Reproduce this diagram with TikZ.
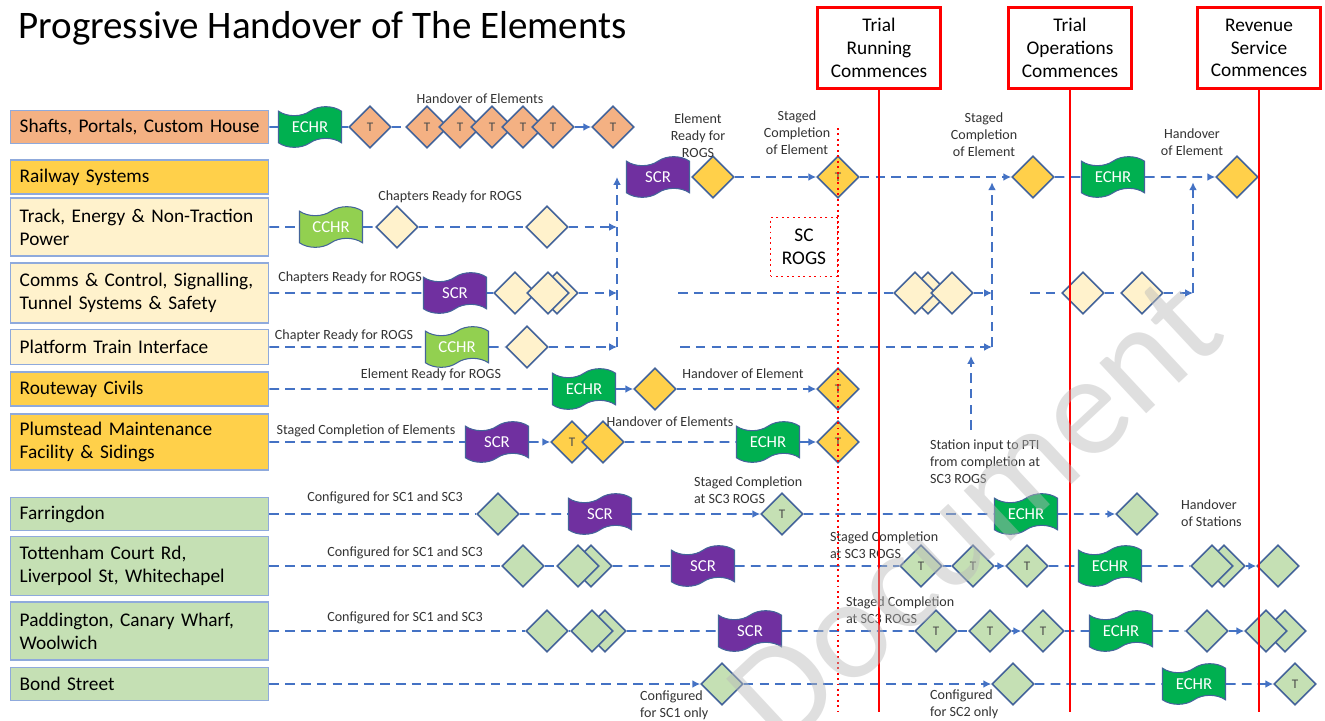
\documentclass[tikz,border=0pt]{standalone}
\usepackage{fontspec}
\setmainfont{Carlito}
\usetikzlibrary{arrows.meta,shapes.geometric,shapes.symbols}
\definecolor{orangeel}{HTML}{F4B183}
\definecolor{goldel}{HTML}{FFD04A}
\definecolor{creamel}{HTML}{FFF2CC}
\definecolor{greenel}{HTML}{C5E0B4}
\definecolor{boxline}{HTML}{8FAADC}
\definecolor{gateline}{HTML}{44649A}
\definecolor{flowblue}{HTML}{4472C4}
\definecolor{echrgreen}{HTML}{00B050}
\definecolor{cchrgreen}{HTML}{92D050}
\definecolor{scrpurple}{HTML}{7030A0}

\begin{document}
\begin{tikzpicture}[
  x=0.02cm, y=-0.02cm,
  >={Latex[length=4.5pt,width=4.5pt]},
  element/.style={draw=boxline, line width=0.8pt, anchor=west, minimum width=5.16cm,
    text width=4.8cm, align=left, inner xsep=0.18cm, font=\fontsize{11}{13}\selectfont},
  milestone/.style={draw=red, line width=1.2pt, minimum width=2.46cm, minimum height=1.62cm,
    align=center, font=\fontsize{11}{13}\selectfont},
  gate/.style={diamond, aspect=1, draw=gateline, line width=0.9pt, minimum size=0.84cm,
    inner sep=0pt, text=black!70, font=\fontsize{7.5}{8}\selectfont},
  flag/.style={tape, draw=gateline, line width=0.6pt, minimum width=1.26cm, minimum height=0.76cm,
    tape bend height=0.18cm, text=white, font=\fontsize{9.5}{10}\selectfont},
  echr/.style={flag, fill=echrgreen},
  cchr/.style={flag, fill=cchrgreen},
  scr/.style={flag, fill=scrpurple},
  flow/.style={draw=flowblue, line width=1.1pt, dash pattern=on 5.5pt off 3.5pt},
  note/.style={align=center, inner sep=1pt, text=black!80, font=\fontsize{8}{9.6}\selectfont},
  redline/.style={draw=red, line width=1.3pt}
]
\useasboundingbox (0,0) rectangle (1325,720);

% title and milestones
\node[anchor=west, inner sep=0pt, font=\fontsize{22.2}{25}\selectfont] (title) at (18,28) {Progressive Handover of The Elements};
\node[milestone] (run) at (879,48) {Trial\\Running\\Commences};
\node[milestone] (ops) at (1070,48) {Trial\\Operations\\Commences};
\node[milestone] (rev) at (1259,48) {Revenue\\Service\\Commences};
\coordinate (bot) at (0,712);

% elements
\node[element, fill=orangeel, minimum height=0.66cm] (shafts) at (10,127) {Shafts, Portals, Custom House};
\node[element, fill=goldel, minimum height=0.68cm] (rail) at (10,177) {Railway Systems};
\node[element, fill=creamel, minimum height=1.16cm] (track) at (10,227) {Track, Energy \& Non-Traction\\Power};
\node[element, fill=creamel, minimum height=1.2cm] (comms) at (10,293) {Comms \& Control, Signalling,\\Tunnel Systems \& Safety};
\node[element, fill=creamel, minimum height=0.7cm] (pti) at (10,347) {Platform Train Interface};
\node[element, fill=goldel, minimum height=0.68cm] (civils) at (10,389) {Routeway Civils};
\node[element, fill=goldel, minimum height=1.12cm] (plum) at (10,442) {Plumstead Maintenance\\Facility \& Sidings};
\node[element, fill=greenel, minimum height=0.66cm] (farr) at (10,514) {Farringdon};
\node[element, fill=greenel, minimum height=1.18cm] (tcr) at (10,566) {Tottenham Court Rd,\\Liverpool St, Whitechapel};
\node[element, fill=greenel, minimum height=1.16cm] (padd) at (10,631) {Paddington, Canary Wharf,\\Woolwich};
\node[element, fill=greenel, minimum height=0.66cm] (bond) at (10,684) {Bond Street};

% shafts
\node[echr] (sh-echr) at (310,127) {ECHR};
\node[gate, fill=orangeel] (sh-t0) at (370,127) {T};
\foreach \x [count=\i] in {427,460,492,523,553}
  \node[gate, fill=orangeel] (sh-t\i) at (\x,127) {T};
\node[gate, fill=orangeel] (sh-t6) at (613,127) {T};
\node[note] (sh-lbl) at (480,99) {Handover of Elements};
\draw[flow] (shafts) -- (sh-echr);
\draw[flow] (sh-echr) -- (sh-t0);
\draw[flow] (sh-t0) -- (sh-t1);
\draw[flow,->] (sh-t5) -- (sh-t6);

% railway systems
\node[scr] (rl-scr) at (658,177) {SCR};
\node[gate, fill=goldel] (rl-d1) at (713,177) {};
\node[gate, fill=goldel] (rl-t) at (838,177) {T};
\node[gate, fill=goldel] (rl-d2) at (1033,177) {};
\node[echr] (rl-echr) at (1113,177) {ECHR};
\node[gate, fill=goldel] (rl-d3) at (1237,177) {};
\node[note] (rl-lbl1) at (698,136) {Element\\Ready for\\ROGS};
\node[note] (rl-lbl2) at (797,133) {Staged\\Completion\\of Element};
\node[note] (rl-lbl3) at (984,135) {Staged\\Completion\\of Element};
\node[note] (rl-lbl4) at (1192,142) {Handover\\of Element};
\draw[flow,->] (rl-d1) -- (rl-t);
\draw[flow,->] (rl-t) -- (rl-d2);
\draw[flow] (rl-d2) -- (rl-echr);
\draw[flow,->] (rl-echr) -- (rl-d3);

% SC ROGS
\node[draw=red, dotted, line width=1.1pt, minimum width=1.34cm, minimum height=1.18cm, align=center,
  font=\fontsize{11}{13}\selectfont] (rogs) at (804,247) {SC\\ROGS};
\coordinate (rogs-top) at (838,128);

% track
\coordinate (j1) at (617,347);
\node[cchr] (tr-cchr) at (331,227) {CCHR};
\node[gate, fill=creamel] (tr-d1) at (397,227) {};
\node[gate, fill=creamel] (tr-d2) at (547,227) {};
\node[note] (tr-lbl) at (450,197) {Chapters Ready for ROGS};
\draw[flow] (track) -- (tr-cchr);
\draw[flow] (tr-cchr) -- (tr-d1);
\draw[flow] (tr-d1) -- (tr-d2);
\draw[flow,->] (tr-d2) -- (tr-d2 -| j1);

% comms
\node[scr] (co-scr) at (455,293) {SCR};
\node[gate, fill=creamel] (co-d1) at (515,293) {};
\node[gate, fill=creamel] (co-d3) at (557,293) {};
\node[gate, fill=creamel] (co-d2) at (548,293) {};
\node[note] (co-lbl) at (350,278) {Chapters Ready for ROGS};
\draw[flow] (comms) -- (co-scr);
\draw[flow] (co-scr) -- (co-d1);
\draw[flow,->] (co-d3) -- (co-d3 -| j1);
\coordinate (j2) at (992,347);
\coordinate (co-a) at (678,293);
\node[gate, fill=creamel] (co-d5) at (928,293) {};
\node[gate, fill=creamel] (co-d4) at (915,293) {};
\node[gate, fill=creamel] (co-d6) at (952,293) {};
\draw[flow] (co-a) -- (co-d4);
\draw[flow,->] (co-d6) -- (co-d6 -| j2);
\coordinate (co-b) at (1030,293);
\coordinate (j3) at (1193,293);
\node[gate, fill=creamel] (co-d7) at (1083,293) {};
\node[gate, fill=creamel] (co-d8) at (1142,293) {};
\draw[flow] (co-b) -- (co-d7);
\draw[flow] (co-d7) -- (co-d8);
\draw[flow,->] (co-d8) -- (j3);
\draw[flow,->,shorten >=3pt] (j3) -- (j3 |- rl-d3);

% platform train interface
\node[cchr] (pt-cchr) at (457,347) {CCHR};
\node[gate, fill=creamel] (pt-d1) at (527,347) {};
\node[note] (pt-lbl) at (344,336) {Chapter Ready for ROGS};
\draw[flow] (pti) -- (pt-cchr);
\draw[flow] (pt-cchr) -- (pt-d1);
\draw[flow,->] (pt-d1) -- (j1);
\draw[flow,->] (j1) -- (j1 |- rl-scr);
\coordinate (pt-a) at (680,347);
\draw[flow,->] (pt-a) -- (j2);
\draw[flow,->,shorten >=3pt] (j2) -- (j2 |- rl-d2);
\coordinate (si-a) at (971,430);
\coordinate (si-b) at (971,356);
\draw[flow,->] (si-a) -- (si-b);
\node[note, anchor=north west, align=left] (si-lbl) at (928,438) {Station input to PTI\\from completion at\\SC3 ROGS};

% routeway civils
\node[echr] (cv-echr) at (584,389) {ECHR};
\node[gate, fill=goldel] (cv-d1) at (655,389) {};
\node[gate, fill=goldel] (cv-t) at (838,389) {T};
\node[note] (cv-lbl1) at (431,375) {Element Ready for ROGS};
\node[note] (cv-lbl2) at (743,374) {Handover of Element};
\draw[flow] (civils) -- (cv-echr);
\draw[flow,->] (cv-echr) -- (cv-d1);
\draw[flow,->] (cv-d1) -- (cv-t);

% plumstead
\node[scr] (pl-scr) at (497,442) {SCR};
\node[gate, fill=goldel] (pl-t) at (572,442) {T};
\node[gate, fill=goldel] (pl-d) at (603,442) {};
\node[echr] (pl-echr) at (768,442) {ECHR};
\node[gate, fill=goldel] (pl-t2) at (838,442) {T};
\node[note] (pl-lbl1) at (366,431) {Staged Completion of Elements};
\node[note] (pl-lbl2) at (670,422) {Handover of Elements};
\draw[flow] (plum) -- (pl-scr);
\draw[flow,->] (pl-scr) -- (pl-t);
\draw[flow] (pl-d) -- (pl-echr);
\draw[flow,->] (pl-echr) -- (pl-t2);

% farringdon
\node[gate, fill=greenel] (fa-d1) at (498,514) {};
\node[scr] (fa-scr) at (600,514) {SCR};
\node[gate, fill=greenel] (fa-t) at (782,514) {T};
\node[echr] (fa-echr) at (1026,514) {ECHR};
\node[gate, fill=greenel] (fa-d2) at (1137,514) {};
\node[note] (fa-lbl1) at (385,498) {Configured for SC1 and SC3};
\node[note, anchor=west, align=left] (fa-lbl2) at (692,490) {Staged Completion\\at SC3 ROGS};
\node[note, anchor=west, align=left] (fa-lbl3) at (1179,513) {Handover\\of Stations};
\draw[flow] (farr) -- (fa-d1);
\draw[flow] (fa-d1) -- (fa-scr);
\draw[flow,->] (fa-scr) -- (fa-t);
\draw[flow] (fa-t) -- (fa-echr);
\draw[flow,->] (fa-echr) -- (fa-d2);

% tottenham court rd
\node[gate, fill=greenel] (tc-d1) at (523,566) {};
\node[gate, fill=greenel] (tc-d3) at (591,566) {};
\node[gate, fill=greenel] (tc-d2) at (578,566) {};
\node[scr] (tc-scr) at (703,566) {SCR};
\node[gate, fill=greenel] (tc-t1) at (921,566) {T};
\node[gate, fill=greenel] (tc-t2) at (973,566) {T};
\node[gate, fill=greenel] (tc-t3) at (1027,566) {T};
\node[echr] (tc-echr) at (1110,566) {ECHR};
\node[gate, fill=greenel] (tc-d5) at (1224,566) {};
\node[gate, fill=greenel] (tc-d4) at (1212,566) {};
\node[gate, fill=greenel] (tc-d6) at (1278,566) {};
\node[note] (tc-lbl1) at (405,553) {Configured for SC1 and SC3};
\node[note, anchor=west, align=left] (tc-lbl2) at (828,545) {Staged Completion\\at SC3 ROGS};
\draw[flow] (tcr) -- (tc-d1);
\draw[flow] (tc-d1) -- (tc-d2);
\draw[flow] (tc-d3) -- (tc-scr);
\draw[flow] (tc-scr) -- (tc-t1);
\draw[flow] (tc-t1) -- (tc-t2);
\draw[flow,->] (tc-t2) -- (tc-t3);
\draw[flow] (tc-t3) -- (tc-echr);
\draw[flow] (tc-echr) -- (tc-d4);
\draw[flow,->] (tc-d5) -- (tc-d6);

% paddington
\node[gate, fill=greenel] (pa-d1) at (547,631) {};
\node[gate, fill=greenel] (pa-d3) at (605,631) {};
\node[gate, fill=greenel] (pa-d2) at (592,631) {};
\node[scr] (pa-scr) at (750,631) {SCR};
\node[gate, fill=greenel] (pa-t1) at (936,631) {T};
\node[gate, fill=greenel] (pa-t2) at (990,631) {T};
\node[gate, fill=greenel] (pa-t3) at (1043,631) {T};
\node[echr] (pa-echr) at (1121,631) {ECHR};
\node[gate, fill=greenel] (pa-d4) at (1207,631) {};
\node[gate, fill=greenel] (pa-d6) at (1285,631) {};
\node[gate, fill=greenel] (pa-d5) at (1266,631) {};
\node[note] (pa-lbl1) at (405,618) {Configured for SC1 and SC3};
\node[note, anchor=west, align=left] (pa-lbl2) at (844,610) {Staged Completion\\at SC3 ROGS};
\draw[flow] (padd) -- (pa-d1);
\draw[flow] (pa-d1) -- (pa-d2);
\draw[flow] (pa-d3) -- (pa-scr);
\draw[flow] (pa-scr) -- (pa-t1);
\draw[flow] (pa-t1) -- (pa-t2);
\draw[flow,->] (pa-t2) -- (pa-t3);
\draw[flow] (pa-t3) -- (pa-echr);
\draw[flow] (pa-echr) -- (pa-d4);
\draw[flow,->] (pa-d4) -- (pa-d5);

% bond street
\node[gate, fill=greenel] (bo-d1) at (722,684) {};
\node[gate, fill=greenel] (bo-d2) at (1013,684) {};
\node[echr] (bo-echr) at (1194,684) {ECHR};
\node[gate, fill=greenel] (bo-t) at (1295,684) {T};
\node[note, anchor=west, align=left] (bo-lbl1) at (638,705) {Configured\\for SC1 only};
\node[note, anchor=west, align=left] (bo-lbl2) at (928,704) {Configured\\for SC2 only};
\draw[flow,->] (bond) -- (bo-d1);
\draw[flow,->] (bo-d1) -- (bo-d2);
\draw[flow] (bo-d2) -- (bo-echr);
\draw[flow,->] (bo-echr) -- (bo-t);

% milestone lines on top
\draw[draw=red, dotted, line width=1.1pt] (rogs-top) -- (rogs-top |- bot);
\foreach \m in {run,ops,rev}
  \draw[redline] (\m.south) -- (\m.south |- bot);

% watermark
\node[rotate=43, text=gray!55, opacity=0.45, font=\fontsize{82}{82}\selectfont] (wm) at (975,512) {Document};
\end{tikzpicture}
\end{document}
